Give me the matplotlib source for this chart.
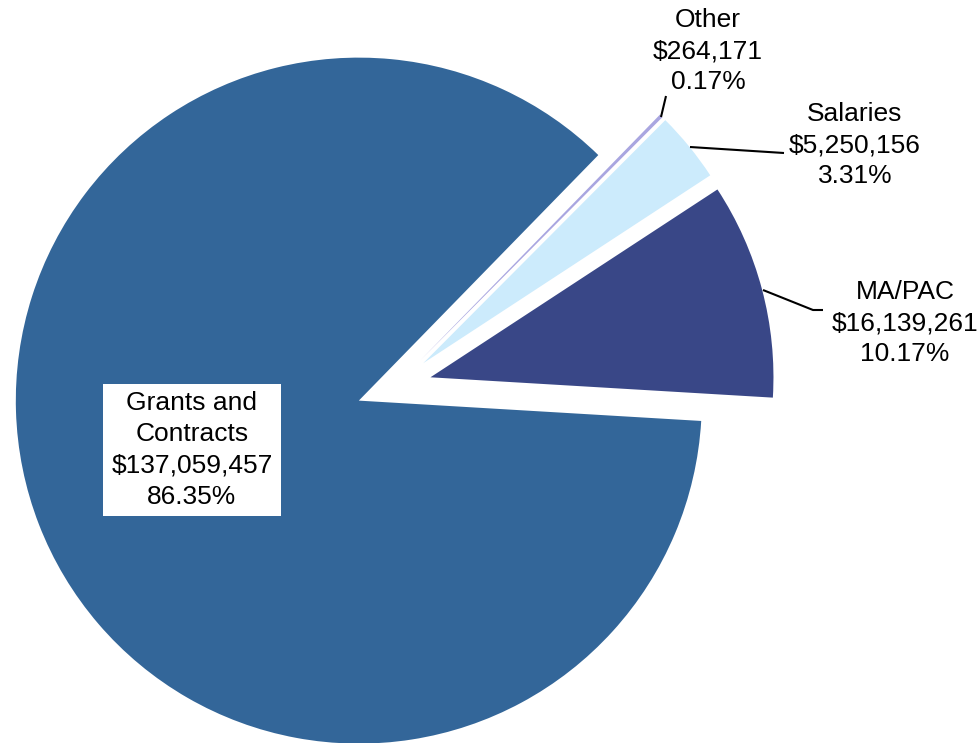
import matplotlib
matplotlib.use("Agg")
import matplotlib.pyplot as plt

categories = ["MA/PAC", "Salaries", "Other", "Grants and\nContracts"]
amounts = [16139261, 5250156, 264171, 137059457]
amount_labels = ["$16,139,261", "$5,250,156", "$264,171", "$137,059,457"]
percent_labels = ["10.17%", "3.31%", "0.17%", "86.35%"]
colors = ["#394787", "#CCEBFC", "#A9A6E0", "#336699"]
explode = [0.11, 0.11, 0.11, 0.11]

W, H = 979, 743
CX, CY, R = 394, 387, 343

def px(x, y):
    return ((x - CX) / R, (CY - y) / R)

plt.rcParams['font.family'] = ['Liberation Sans', 'DejaVu Sans']

fig = plt.figure(figsize=(W / 100, H / 100), dpi=100)
ax = fig.add_axes([0, 0, 1, 1])
ax.axis("off")

ax.pie(amounts, colors=colors, explode=explode, startangle=-3.4,
       counterclock=True, radius=1.0, center=(0, 0),
       wedgeprops=dict(linewidth=0), frame=False)
ax.set_xlim(px(0, 0)[0], px(W, 0)[0])
ax.set_ylim(px(0, H)[1], px(0, 0)[1])
ax.set_aspect("auto")

fs = 19
ls = 1.37

def label(i):
    return f"{categories[i]}\n{amount_labels[i]}\n{percent_labels[i]}"

# Leader lines
lines = [
    [(763, 290), (813, 310), (823, 310)],
    [(690, 147), (784, 153)],
    [(661, 117), (666, 96)],
]
for pts in lines:
    xs, ys = zip(*[px(*p) for p in pts])
    ax.plot(xs, ys, color="black", linewidth=1.5, solid_capstyle="butt")

label_pos = [(905, 323), (855, 145), (708, 51)]
for i, (x, y) in enumerate(label_pos):
    ax.text(*px(x, y), label(i), ha="center", va="center", fontsize=fs,
            linespacing=ls, color="black")

ax.text(*px(192, 450), label(3), ha="center", va="center", fontsize=fs,
        linespacing=ls, color="black",
        bbox=dict(boxstyle="square,pad=0.3", facecolor="white", edgecolor="none"))

fig.savefig("out.png", dpi=100, facecolor="white")
